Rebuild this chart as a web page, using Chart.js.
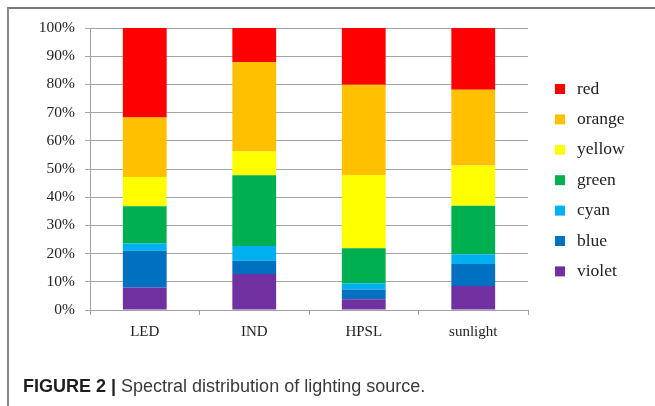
<!DOCTYPE html>
<html>
<head>
<meta charset="utf-8">
<script src="https://cdn.jsdelivr.net/npm/chart.js@4/dist/chart.umd.min.js"></script>
<style>
  html, body { margin: 0; padding: 0; background: #fff; }
  body { width: 655px; height: 406px; position: relative; overflow: hidden; }
  #frame {
    position: absolute; left: 7px; top: 7px; width: 660px; height: 410px;
    border-top: 2px solid #7a7a7a; border-left: 2px solid #8a8a8a;
  }
  #wrap { position: absolute; left: 0; top: 0; width: 655px; height: 406px; }
  #caption {
    position: absolute; left: 23px; top: 376px;
    font-family: "Liberation Sans", Arial, sans-serif; font-size: 18px; color: #3a3a3a;
    white-space: nowrap;
  }
  #caption b { color: #1e1e1e; }
</style>
</head>
<body>
<div id="frame"></div>
<div id="wrap"><canvas id="c" width="655" height="406"></canvas></div>
<div id="caption"><b>FIGURE 2 |</b> Spectral distribution of lighting source.</div>
<script>
// Light sources on the x axis
const categories = ["LED", "IND", "HPSL", "sunlight"];

// Share of each spectral band (%) per light source, bottom to top
const violet = [8.0, 12.8, 3.8, 8.5];
const blue   = [13.0, 4.7, 3.5, 7.8];
const cyan   = [2.6, 5.2, 2.2, 3.5];
const green  = [13.2, 25.1, 12.4, 17.2];
const yellow = [10.4, 8.4, 26.0, 14.2];
const orange = [21.1, 31.7, 32.0, 26.9];
const red    = [31.7, 12.1, 20.1, 21.9];

const bandNames = ["violet", "blue", "cyan", "green", "yellow", "orange", "red"];
const bandValues = [violet, blue, cyan, green, yellow, orange, red];
const bandColors = ["#7030a0", "#0070c0", "#00b0f0", "#00b050", "#ffff00", "#ffc000", "#ff0000"];

const yTicks = [0, 10, 20, 30, 40, 50, 60, 70, 80, 90, 100];

const serif = '"Liberation Serif", "Times New Roman", serif';

// Legend on the right, red at the top down to violet
const sideLegend = {
  id: "sideLegend",
  afterDraw(chart) {
    const ctx = chart.ctx;
    const sets = chart.data.datasets;
    ctx.save();
    ctx.font = "17.5px " + serif;
    ctx.textBaseline = "middle";
    ctx.textAlign = "left";
    for (let i = 0; i < sets.length; i++) {
      const ds = sets[sets.length - 1 - i];
      const cy = 89 + i * 30.4;
      ctx.fillStyle = ds.backgroundColor;
      ctx.fillRect(555, cy - 5, 10, 10);
      ctx.fillStyle = "#222";
      ctx.fillText(ds.label, 577, cy);
    }
    ctx.restore();
  }
};

new Chart(document.getElementById("c"), {
  type: "bar",
  data: {
    labels: categories,
    datasets: bandNames.map((name, i) => ({
      label: name,
      data: bandValues[i],
      backgroundColor: bandColors[i],
      borderWidth: 0,
      categoryPercentage: 1.0,
      barPercentage: 0.4
    }))
  },
  options: {
    responsive: false,
    animation: false,
    devicePixelRatio: 1,
    layout: { padding: { left: 0, top: 28, right: 127, bottom: 0 } },
    plugins: { legend: { display: false }, tooltip: { enabled: false } },
    scales: {
      x: {
        stacked: true,
        afterFit(scale) { scale.height = 96; },
        grid: {
          offset: true, drawOnChartArea: false, drawTicks: true,
          tickLength: 5, color: "#a0a0a0", lineWidth: 1
        },
        border: { display: true, color: "#a0a0a0", width: 1 },
        ticks: { color: "#222", font: { family: serif, size: 15 }, padding: 8 }
      },
      y: {
        stacked: true,
        min: 0, max: 100,
        afterFit(scale) { scale.width = 90; },
        afterBuildTicks(scale) { scale.ticks = yTicks.map(v => ({ value: v })); },
        grid: { color: "#a6a6a6", lineWidth: 1, drawTicks: true, tickLength: 5 },
        border: { display: true, color: "#a0a0a0", width: 1 },
        ticks: {
          color: "#222", font: { family: serif, size: 15.5 }, padding: 10,
          callback: v => v + "%"
        }
      }
    }
  },
  plugins: [sideLegend]
});
</script>
</body>
</html>
